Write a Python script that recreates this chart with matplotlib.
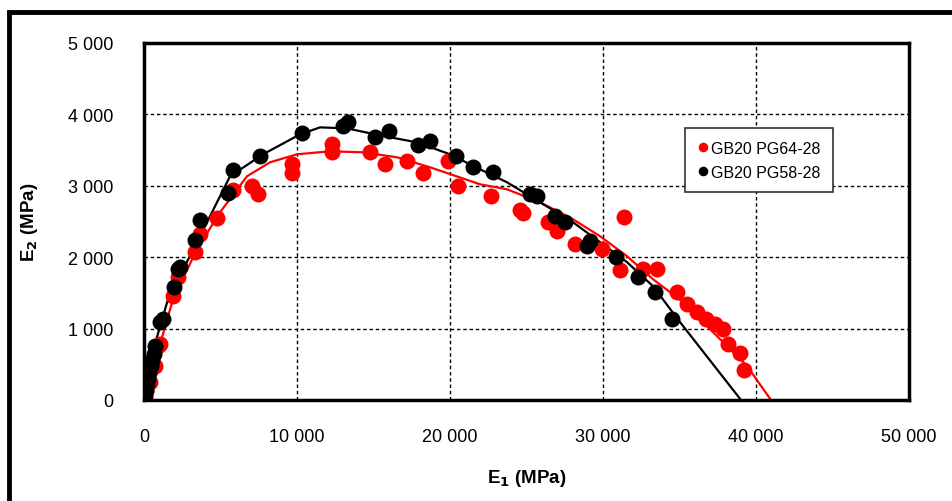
import matplotlib
matplotlib.use("Agg")
import matplotlib.pyplot as plt
from matplotlib.patches import Rectangle
from matplotlib.ticker import FixedLocator, FuncFormatter

plt.rcParams["font.family"] = ["Liberation Sans", "DejaVu Sans"]

# measured points, GB20 PG64-28
pg64_e1 = [0, 150, 392, 588, 719, 915, 1046, 1895, 2222, 3333, 3660, 4771, 5817,
           7059, 7451, 9673, 9673, 12288, 12288, 14771, 15752, 17190, 18235,
           19869, 20523, 22680, 24575, 24771, 26405, 26993, 28170, 29935,
           31373, 31111, 32614, 33529, 34837, 35490, 36144, 36732, 37320,
           37843, 38170, 38954, 39216]
pg64_e2 = [0, 120, 252, 462, 476, 755, 783, 1455, 1720, 2070, 2322, 2545, 2937,
           2993, 2881, 3301, 3175, 3580, 3469, 3469, 3301, 3343, 3175,
           3343, 2993, 2853, 2657, 2615, 2490, 2364, 2182, 2112,
           2559, 1818, 1832, 1832, 1510, 1343, 1231, 1133, 1063,
           993, 783, 657, 420]

# measured points, GB20 PG58-28
pg58_e1 = [0, 60, 120, 200, 280, 350, 450, 550, 650, 720, 1046, 1242, 1961,
           2222, 2353, 3333, 3660, 5490, 5817, 7582, 10327, 13007, 13333,
           15098, 16013, 17908, 18693, 20392, 21503, 22810, 25229, 25686,
           26863, 27516, 29150, 28954, 30850, 32288, 33399, 34510]
pg58_e2 = [0, 60, 140, 220, 300, 380, 470, 560, 650, 755, 1091, 1133, 1580,
           1832, 1860, 2238, 2517, 2895, 3217, 3413, 3734, 3832, 3888,
           3678, 3762, 3566, 3622, 3413, 3259, 3189, 2881, 2853,
           2573, 2490, 2224, 2154, 2000, 1720, 1510, 1133]

# fitted curves
fit64_e1 = [0, 1895, 3464, 4967, 6732, 8235, 10000, 12157, 14314, 16536, 18693,
            21961, 23725, 25882, 28039, 29804, 31569, 33268, 35229, 37451,
            39412, 40980]
fit64_e2 = [0, 1413, 2112, 2629, 3133, 3329, 3441, 3483, 3469, 3399, 3259,
            3021, 2951, 2769, 2531, 2294, 2014, 1692, 1371, 895, 476, 0]

fit58_e1 = [0, 600, 1569, 4118, 5621, 7778, 10196, 11503, 13268, 15425, 17843,
            20000, 21961, 23725, 25882, 28039, 29804, 31569, 33268, 35033,
            39020]
fit58_e2 = [0, 700, 1413, 2490, 3133, 3441, 3720, 3818, 3804, 3706, 3608,
            3441, 3231, 3049, 2769, 2490, 2210, 1930, 1594, 1091, 0]

x_ticks = [0, 10000, 20000, 30000, 40000, 50000]
y_ticks = [0, 1000, 2000, 3000, 4000, 5000]


def thousands(v, pos):
    return f"{int(v):,}".replace(",", " ")


fig = plt.figure(figsize=(9.52, 5.02), dpi=100)
ax = fig.add_axes([0.1513, 0.2012, 0.8035, 0.7112])

ax.plot(fit64_e1, fit64_e2, color="#ff0000", lw=1.6, zorder=3)
ax.plot(fit58_e1, fit58_e2, color="black", lw=1.6, zorder=3)
ax.plot(pg64_e1, pg64_e2, "o", color="#ff0000", ms=11.5, mec="none",
        label="GB20 PG64-28", zorder=4)
ax.plot(pg58_e1, pg58_e2, "o", color="black", ms=11.5, mec="none",
        label="GB20 PG58-28", zorder=5)

ax.set_xlim(0, 50000)
ax.set_ylim(0, 5000)
ax.xaxis.set_major_locator(FixedLocator(x_ticks))
ax.yaxis.set_major_locator(FixedLocator(y_ticks))
ax.xaxis.set_major_formatter(FuncFormatter(thousands))
ax.yaxis.set_major_formatter(FuncFormatter(thousands))
ax.tick_params(length=0, labelsize=13, colors="black")
ax.tick_params(axis="y", pad=22)
ax.tick_params(axis="x", pad=20)

ax.grid(True, color="black", linestyle=(0, (2.5, 2)), lw=1.0)
ax.set_axisbelow(True)
for sp in ax.spines.values():
    sp.set_linewidth(2.5)
    sp.set_zorder(6)

ax.set_xlabel("E$_\\mathbf{1}$ (MPa)", fontsize=13.5, fontweight="bold", labelpad=16)
ax.set_ylabel("E$_\\mathbf{2}$ (MPa)", fontsize=13.5, fontweight="bold", labelpad=20)

leg = ax.legend(loc="upper left", bbox_to_anchor=(0.697, 0.784),
                prop={"family": "Liberation Sans", "size": 11.5},
                markerscale=0.6, handlelength=0.6, handletextpad=0.2,
                borderpad=0.8, labelspacing=0.55, fancybox=False,
                framealpha=1, edgecolor="#333333")
leg.get_frame().set_linewidth(1.2)

# outer frame round the whole chart
fig.patches.append(Rectangle((0.009, -0.2), 1.2, 1.175, transform=fig.transFigure,
                             fill=False, edgecolor="black", lw=3.5))

fig.savefig("out.png", dpi=100)
